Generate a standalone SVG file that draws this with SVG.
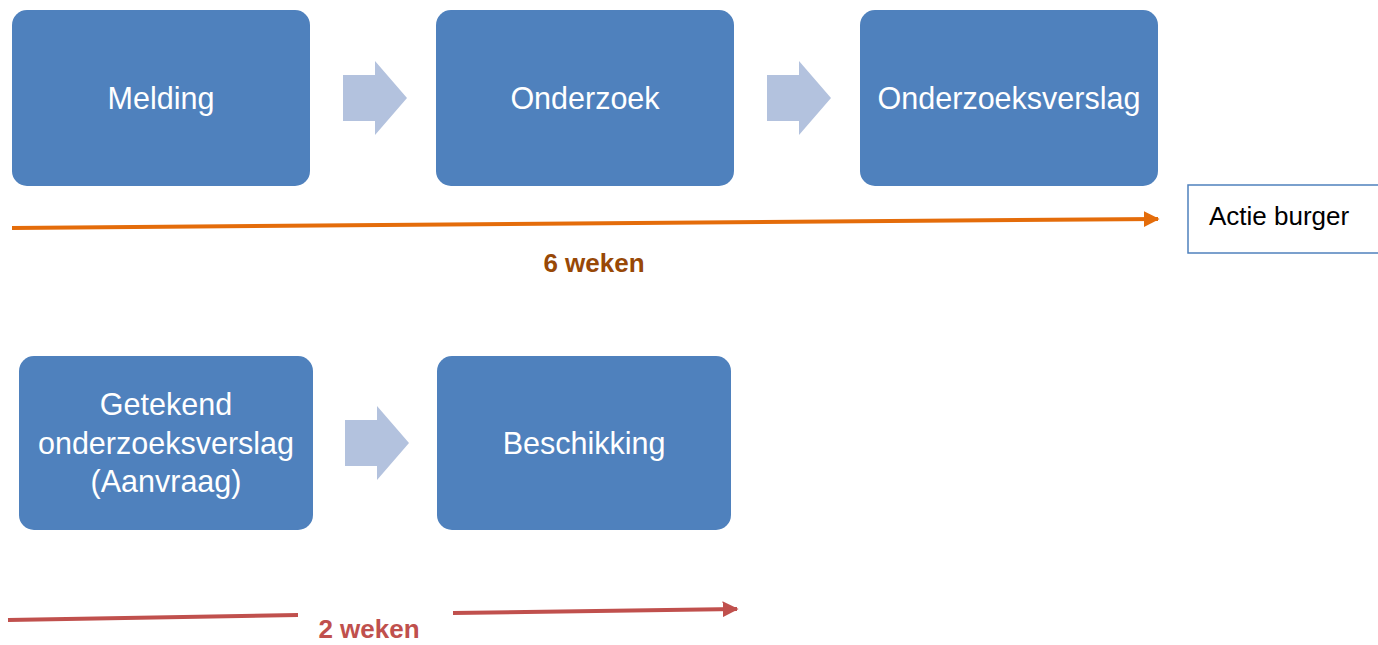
<svg xmlns="http://www.w3.org/2000/svg" width="1378" height="645" viewBox="0 0 1378 645">
<style>
.box{fill:#4F81BD;}
.lbl{font-family:"Liberation Sans",Arial,sans-serif;font-size:30.5px;fill:#fff;text-anchor:middle;}
.chev{fill:#B3C2DE;}
.wk{font-family:"Liberation Sans",Arial,sans-serif;font-size:26px;font-weight:bold;text-anchor:middle;}
</style>
<defs>
<marker id="ao" viewBox="0 0 10 10" refX="9" refY="5" markerWidth="4" markerHeight="4" orient="auto" markerUnits="strokeWidth"><path d="M0,0 L10,5 L0,10 z" fill="#E46C0A"/></marker>
<marker id="ar" viewBox="0 0 10 10" refX="9" refY="5" markerWidth="4" markerHeight="4" orient="auto" markerUnits="strokeWidth"><path d="M0,0 L10,5 L0,10 z" fill="#C0504D"/></marker>
</defs>
<rect width="1378" height="645" fill="#fff"/>
<g id="melding"><rect class="box" x="12" y="10" width="298" height="176" rx="15"/><text class="lbl" x="161" y="109">Melding</text></g>
<g id="onderzoek"><rect class="box" x="436" y="10" width="298" height="176" rx="15"/><text class="lbl" x="585" y="109">Onderzoek</text></g>
<g id="onderzoeksverslag"><rect class="box" x="860" y="10" width="298" height="176" rx="15"/><text class="lbl" x="1009" y="109">Onderzoeksverslag</text></g>
<g id="getekend"><rect class="box" x="19" y="356" width="294" height="174" rx="15"/><text class="lbl" x="166" y="415">Getekend</text><text class="lbl" x="166" y="454">onderzoeksverslag</text><text class="lbl" x="166" y="492">(Aanvraag)</text></g>
<g id="beschikking"><rect class="box" x="437" y="356" width="294" height="174" rx="15"/><text class="lbl" x="584" y="454">Beschikking</text></g>
<g id="actie"><rect x="1188" y="185" width="200" height="68" fill="#fff" stroke="#4F81BD" stroke-width="1.5"/><text x="1209" y="225" font-family="'Liberation Sans',Arial,sans-serif" font-size="26" fill="#000">Actie burger</text></g>
<g id="connectors">
<path class="chev" d="M343,75 H375 V61 L407,98 L375,135 V121 H343 Z"/>
<path class="chev" d="M767,75 H799 V61 L831,98 L799,135 V121 H767 Z"/>
<path class="chev" d="M345,420 H377 V406 L409,443 L377,480 V466 H345 Z"/>
<line x1="12" y1="228" x2="1158" y2="219" stroke="#E46C0A" stroke-width="4" marker-end="url(#ao)"/>
<line x1="8" y1="620" x2="298" y2="615" stroke="#C0504D" stroke-width="4"/>
<line x1="453" y1="613" x2="737" y2="609" stroke="#C0504D" stroke-width="4" marker-end="url(#ar)"/>
</g>
<text class="wk" x="594" y="272" fill="#984806">6 weken</text>
<text class="wk" x="369" y="638" fill="#C0504D">2 weken</text>
</svg>
